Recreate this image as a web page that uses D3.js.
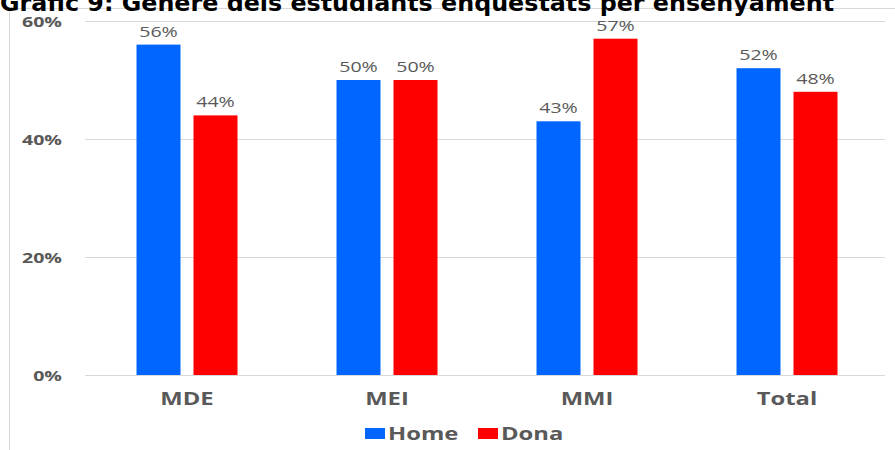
<!DOCTYPE html>
<html>
<head>
<meta charset="utf-8">
<script src="https://cdn.jsdelivr.net/npm/d3@7"></script>
<style>
  html, body { margin: 0; padding: 0; background: #fff; }
  svg { display: block; }
</style>
</head>
<body>
<svg id="chart" width="895" height="450"></svg>
<script>
const categories = ["MDE", "MEI", "MMI", "Total"];
const seriesNames = ["Home", "Dona"];
const home = [56, 50, 43, 52];
const dona = [44, 50, 57, 48];
const yTicks = [0, 20, 40, 60];
const colors = ["#0066FF", "#FF0000"];
const titleText = "Gràfic 9: Gènere dels estudiants enquestats per ensenyament";

const svg = d3.select("#chart");
const W = 895, H = 450;
const margin = { left: 87, right: 8 };
const SX = 1.4; // horizontal stretch of the text seen in the reference
const GRAY = "#595959";

// frame
svg.append("path")
  .attr("d", `M9.5,${H} V8.5 H${W}`)
  .attr("fill", "none").attr("stroke", "#d9d9d9").attr("stroke-width", 1);

// title (partially cut off at the top)
svg.append("text")
  .attr("x", 0).attr("y", 11)
  .attr("font-family", "DejaVu Sans").attr("font-weight", "bold")
  .attr("font-size", 23.8).attr("fill", "#000")
  .text(titleText);

const x = d3.scaleBand().domain(categories).range([margin.left, W - margin.right]);
const y = d3.scaleLinear().domain([0, 60]).range([375, 21]);

const barW = 44, gap = 13;
const xs = d3.scaleOrdinal().domain(seriesNames)
  .range([-(gap / 2 + barW), gap / 2]);

function stretched(g, px, py, txt, opts) {
  return g.append("text")
    .attr("transform", `translate(${px},${py}) scale(${SX},1)`)
    .attr("text-anchor", opts.anchor || "start")
    .attr("font-family", "Open Sans")
    .attr("font-weight", opts.weight || "normal")
    .attr("font-size", opts.size)
    .attr("fill", GRAY)
    .text(txt);
}

// gridlines
svg.append("g").selectAll("line").data(yTicks).join("line")
  .attr("x1", 85).attr("x2", 885)
  .attr("y1", d => Math.round(y(d)) + 0.5).attr("y2", d => Math.round(y(d)) + 0.5)
  .attr("stroke", "#d9d9d9").attr("stroke-width", 1);

// y axis labels
const gy = svg.append("g");
yTicks.forEach(t => {
  stretched(gy, 62, y(t) + 5.5, d3.format("d")(t) + "%", { anchor: "end", weight: "bold", size: 14 });
});

// x axis labels
const gx = svg.append("g");
categories.forEach(c => {
  stretched(gx, x(c) + x.bandwidth() / 2, 405, c, { anchor: "middle", weight: "bold", size: 17 });
});

const data = [];
categories.forEach((c, i) => {
  data.push({ cat: c, s: "Home", v: home[i] });
  data.push({ cat: c, s: "Dona", v: dona[i] });
});

svg.append("g").selectAll("rect").data(data).join("rect")
  .attr("x", d => x(d.cat) + x.bandwidth() / 2 + xs(d.s))
  .attr("width", barW)
  .attr("y", d => y(d.v))
  .attr("height", d => y(0) - y(d.v))
  .attr("fill", d => colors[seriesNames.indexOf(d.s)]);

const gl = svg.append("g");
data.forEach(d => {
  stretched(gl, x(d.cat) + x.bandwidth() / 2 + xs(d.s) + barW / 2, y(d.v) - 8, d.v + "%",
    { anchor: "middle", size: 14 });
});

// legend
const legend = svg.append("g");
const legItems = [{ name: "Home", x: 365 }, { name: "Dona", x: 478 }];
legItems.forEach((it, i) => {
  legend.append("rect").attr("x", it.x).attr("y", 428).attr("width", 20).attr("height", 11)
    .attr("fill", colors[i]);
  stretched(legend, it.x + 23, 440, it.name, { weight: "bold", size: 17 });
});
</script>
</body>
</html>
